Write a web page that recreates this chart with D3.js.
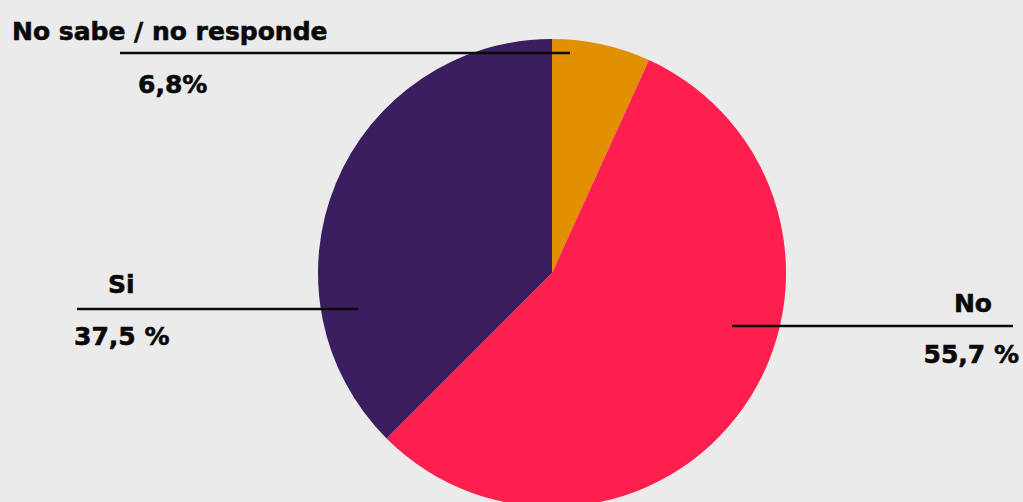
<!DOCTYPE html>
<meta charset="utf-8">
<style>
body { margin: 0; background-color: #ebebeb; }
svg { display: block; background-color: #ebebeb; }
.lbl { font-family: "DejaVu Sans", sans-serif; font-weight: bold; font-size: 25px; fill: #0a0a0a; stroke: #0a0a0a; stroke-width: 0.6px; }
.leader { stroke: #0a0a0a; stroke-width: 2.5px; }
</style>
<body>
<script src="https://d3js.org/d3.v7.min.js"></script>
<script>
// slices, clockwise from 12 o'clock
var categories = ["No sabe / no responde", "No", "Si"];
var values = [6.8, 55.7, 37.5];
var valueLabels = ["6,8%", "55,7 %", "37,5 %"];
var colors = ["#e28f02", "#fe1f4f", "#3a1e60"];

var width = 1023, height = 502;
var cx = 552, cy = 273, radius = 234;

var svg = d3.select("body").append("svg")
    .attr("width", width)
    .attr("height", height);

var pie = d3.pie().sort(null).value(function(d) { return d; });
var arc = d3.arc().innerRadius(0).outerRadius(radius);

var g = svg.append("g")
    .attr("transform", "translate(" + cx + "," + cy + ")");

g.selectAll("path")
    .data(pie(values))
    .enter()
    .append("path")
    .attr("d", arc)
    .attr("fill", function(d, i) { return colors[i]; });

// label layout: leader line + name above + value below
var layout = [
  {x1: 120, x2: 570, y: 53, nameX: 12, nameY: 40, nameAnchor: "start", valX: 138, valY: 93, valAnchor: "start"},
  {x1: 732, x2: 1013, y: 326, nameX: 992, nameY: 312, nameAnchor: "end", valX: 1019, valY: 363, valAnchor: "end"},
  {x1: 77, x2: 358, y: 309, nameX: 108, nameY: 293, nameAnchor: "start", valX: 74, valY: 345, valAnchor: "start"}
];

var labels = svg.selectAll("g.label")
    .data(categories)
    .enter()
    .append("g")
    .attr("class", "label");

labels.append("line")
    .attr("class", "leader")
    .attr("x1", function(d, i) { return layout[i].x1; })
    .attr("x2", function(d, i) { return layout[i].x2; })
    .attr("y1", function(d, i) { return layout[i].y; })
    .attr("y2", function(d, i) { return layout[i].y; });

labels.append("text")
    .attr("class", "lbl")
    .attr("x", function(d, i) { return layout[i].nameX; })
    .attr("y", function(d, i) { return layout[i].nameY; })
    .attr("text-anchor", function(d, i) { return layout[i].nameAnchor; })
    .text(function(d) { return d; });

labels.append("text")
    .attr("class", "lbl")
    .attr("x", function(d, i) { return layout[i].valX; })
    .attr("y", function(d, i) { return layout[i].valY; })
    .attr("text-anchor", function(d, i) { return layout[i].valAnchor; })
    .text(function(d, i) { return valueLabels[i]; });
</script>
</body>
